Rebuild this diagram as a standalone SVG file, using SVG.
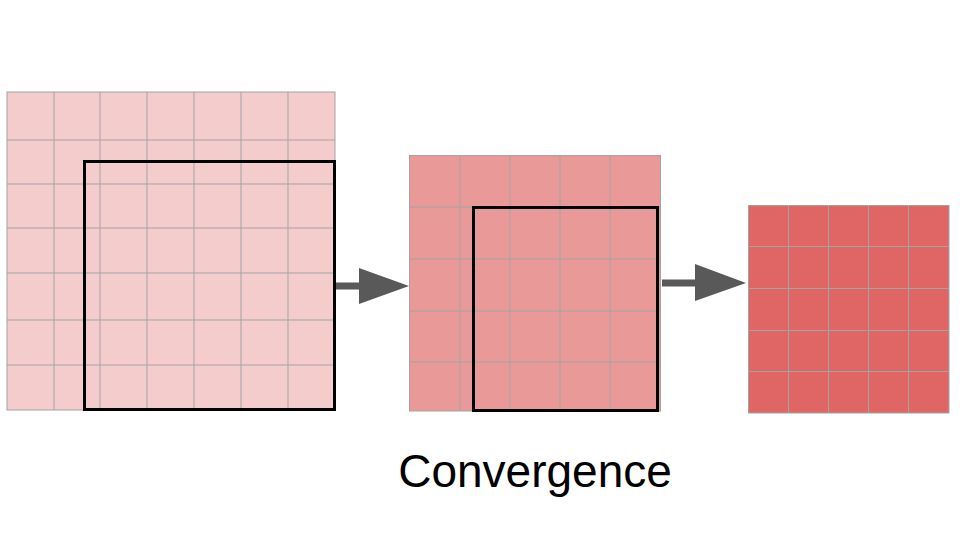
<svg xmlns="http://www.w3.org/2000/svg" width="960" height="540" viewBox="0 0 960 540">
<style>
.g{stroke:#a3a3a3;stroke-width:1;fill:none}
.box{fill:none;stroke:#000;stroke-width:3}
.arrow{fill:#595959}
.t{font-family:"Liberation Sans",Arial,sans-serif;font-size:46px;fill:#000}
</style>
<rect width="960" height="540" fill="#fff"/>
<g id="grid1">
<rect x="7" y="92" width="328" height="318" fill="#f4cccc" class="g" style="fill:#f4cccc"/>
<path class="g" d="M54 92V410M100 92V410M147 92V410M194 92V410M241 92V410M288 92V410M7 140H335M7 184H335M7 228H335M7 273H335M7 320H335M7 365H335"/>
<rect class="box" x="84.5" y="161.5" width="250" height="248"/>
</g>
<g id="grid2">
<rect x="409.5" y="155.5" width="251" height="255.5" class="g" style="fill:#ea9999"/>
<path class="g" d="M460 155V411M510 155V411M560 155V411M610 155V411M409 207H660M409 259H660M409 311H660M409 362H660"/>
<rect class="box" x="473.5" y="207.5" width="184" height="203"/>
</g>
<g id="grid3">
<rect x="748.5" y="205.5" width="200.5" height="207.5" class="g" style="fill:#e06666"/>
<path class="g" d="M788.5 205V413M828.5 205V413M868.5 205V413M908.5 205V413M748 246.5H949M748 288.5H949M748 330.5H949M748 371.5H949"/>
</g>
<g id="connectors">
<polygon class="arrow" points="336,282.5 359,282.5 359,268 409,286 359,304 359,289.5 336,289.5"/>
<polygon class="arrow" points="662,279.5 695,279.5 695,264 746,283 695,301 695,286.5 662,286.5"/>
</g>
<text class="t" x="535" y="487" text-anchor="middle">Convergence</text>
</svg>
